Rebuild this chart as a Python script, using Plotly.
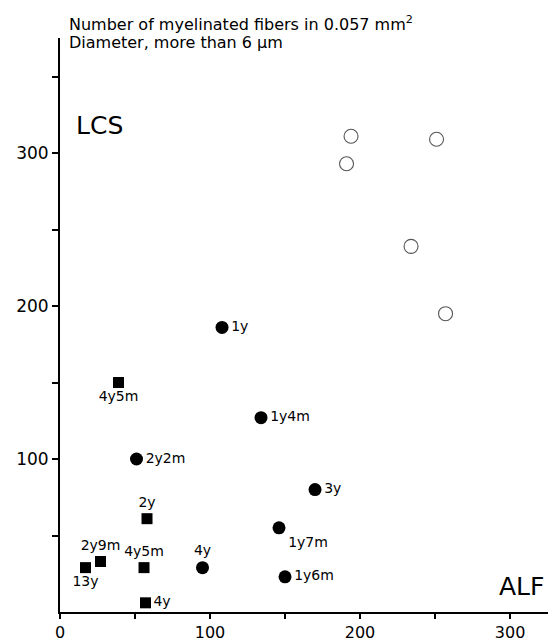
import plotly.graph_objects as go

# Filled circles
circ_x = [108, 134, 51, 170, 146, 150, 95]
circ_y = [186, 127, 100, 80, 55, 23, 29]
circ_lab = ["1y", "1y4m", "2y2m", "3y", "1y7m", "1y6m", "4y"]
circ_pos = ["middle right", "middle right", "middle right", "middle right",
            "bottom right", "middle right", "top center"]

# Filled squares
sq_x = [39, 58, 27, 17, 56, 57]
sq_y = [150, 61, 33, 29, 29, 6]
sq_lab = ["4y5m", "2y", "2y9m", "13y", "4y5m", "4y"]
sq_pos = ["bottom center", "top center", "top center", "bottom center",
          "top center", "middle right"]

# Open circles
open_x = [194, 251, 191, 234, 257]
open_y = [311, 309, 293, 239, 195]

x_major = [0, 100, 200, 300]
x_minor = [50, 150, 250]
y_major = [100, 200, 300]
y_minor = [50, 150, 250, 350]

FONT = "DejaVu Sans"

fig = go.Figure()
fig.add_trace(go.Scatter(
    x=circ_x, y=circ_y, mode="markers+text", text=circ_lab,
    textposition=circ_pos,
    textfont=dict(family=FONT, size=14, color="black"),
    marker=dict(symbol="circle", size=13, color="black"),
    showlegend=False, cliponaxis=False))
fig.add_trace(go.Scatter(
    x=sq_x, y=sq_y, mode="markers+text", text=sq_lab,
    textposition=sq_pos,
    textfont=dict(family=FONT, size=14, color="black"),
    marker=dict(symbol="square", size=11, color="black"),
    showlegend=False, cliponaxis=False))
fig.add_trace(go.Scatter(
    x=open_x, y=open_y, mode="markers",
    marker=dict(symbol="circle-open", size=14, color="#555555",
                line=dict(width=1.1, color="#555555")),
    showlegend=False, cliponaxis=False))

fig.update_xaxes(range=[0, 325.3], tickmode="array", tickvals=x_major,
                 ticks="outside", ticklen=5, tickwidth=1.5, tickcolor="black",
                 minor=dict(tickmode="array", tickvals=x_minor, ticks="outside",
                            ticklen=5, tickwidth=1.5, tickcolor="black",
                            showgrid=False),
                 showline=True, linecolor="black", linewidth=2,
                 showgrid=False, zeroline=False, automargin=False,
                 tickfont=dict(family=FONT, size=16, color="black"))
fig.update_yaxes(range=[0, 375.2], tickmode="array", tickvals=y_major,
                 ticks="outside", ticklen=6, tickwidth=1.5, tickcolor="black",
                 minor=dict(tickmode="array", tickvals=y_minor, ticks="outside",
                            ticklen=6, tickwidth=1.5, tickcolor="black",
                            showgrid=False),
                 showline=True, linecolor="black", linewidth=2,
                 showgrid=False, zeroline=False, automargin=False,
                 tickfont=dict(family=FONT, size=17, color="black"))

fig.add_annotation(xref="paper", yref="paper", x=0.014, y=1.025,
                   xanchor="left", yanchor="middle", showarrow=False,
                   text="Number of myelinated fibers in 0.057 mm<sup>2</sup>",
                   font=dict(family=FONT, size=16, color="black"))
fig.add_annotation(xref="paper", yref="paper", x=0.014, y=0.992,
                   xanchor="left", yanchor="middle", showarrow=False,
                   text="Diameter, more than 6 \u03bcm",
                   font=dict(family=FONT, size=16, color="black"))
fig.add_annotation(xref="paper", yref="paper", x=0.028, y=0.848,
                   xanchor="left", yanchor="middle", showarrow=False,
                   text="LCS", font=dict(family=FONT, size=25, color="black"))
fig.add_annotation(xref="paper", yref="paper", x=0.996, y=0.045,
                   xanchor="right", yanchor="middle", showarrow=False,
                   text="ALF", font=dict(family=FONT, size=25, color="black"))

fig.update_layout(width=548, height=641,
                  margin=dict(l=60, r=0, t=38, b=29),
                  plot_bgcolor="white", paper_bgcolor="white")

# remove the default page margin so the figure sits at the window's corner
fig.write_html("out.html",
               config={"displayModeBar": False},
               post_script="document.body.style.margin='0';"
                           "document.body.style.overflow='hidden';")
